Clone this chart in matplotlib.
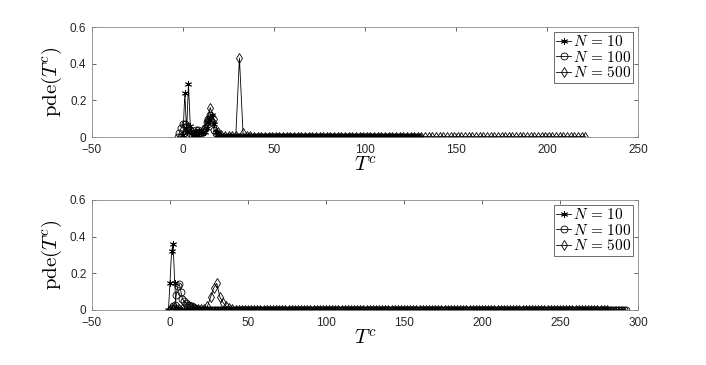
import numpy as np
import matplotlib
matplotlib.use("Agg")
import matplotlib.pyplot as plt
from matplotlib.ticker import FormatStrFormatter

plt.rcParams['font.family'] = ['Liberation Sans', 'DejaVu Sans']
plt.rcParams['mathtext.fontset'] = 'cm'

# ---- top panel data ----
t10_top = np.arange(0, 131)
pde10_top = [0.01, 0.24, 0.03, 0.29, 0.06, 0.02, 0.01, 0.02, 0.01, 0.02,
             0.02, 0.03, 0.03, 0.05, 0.08, 0.11, 0.12, 0.07, 0.03, 0.01,
             0.005] + [0.002] * 110

t100_top = np.arange(-3, 131)
pde100_top = [0.0, 0.02, 0.05, 0.07, 0.07, 0.06, 0.04, 0.02, 0.01, 0.02,
              0.04, 0.04, 0.03, 0.02, 0.03, 0.05, 0.08, 0.10, 0.12, 0.08,
              0.04, 0.02, 0.01, 0.005] + [0.002] * 110

t500_top = np.arange(-1, 222, 2)
pde500_top = [0.0, 0.03, 0.05, 0.03, 0.02, 0.02, 0.04, 0.09, 0.16, 0.10,
              0.03, 0.01, 0.005, 0.003, 0.003, 0.005, 0.43, 0.02, 0.005,
              0.003] + [0.002] * 92

# ---- bottom panel data ----
t10_bot = np.arange(-1, 86)
pde10_bot = [0.0, 0.15, 0.32, 0.36, 0.15, 0.01, 0.005] + [0.002] * 80

t100_bot = np.arange(0, 293)
pde100_bot = [0.0, 0.01, 0.02, 0.03, 0.08, 0.13, 0.14, 0.10, 0.06, 0.05,
              0.04, 0.03, 0.03, 0.02, 0.02, 0.015, 0.01, 0.005] + [0.002] * 275

t500_bot = np.arange(0, 281, 2)
pde500_bot = [0.0, 0.005, 0.005, 0.005, 0.005, 0.005, 0.005, 0.005, 0.005,
              0.005, 0.005, 0.005, 0.02, 0.07, 0.12, 0.145, 0.07, 0.04,
              0.02, 0.01, 0.005] + [0.002] * 120

labels = [r'$N\,=\,10$', r'$N\,=\,100$', r'$N\,=\,500$']
markers = [(6, 2, 0), 'o', 'd']   # asterisk, circle, diamond

fig = plt.figure(figsize=(7.06, 3.65), dpi=100)
W, H = 706, 365
ax_top = fig.add_axes([92 / W, (H - 137) / H, 546 / W, 110 / H])
ax_bot = fig.add_axes([92 / W, (H - 310) / H, 546 / W, 110 / H])

panels = [
    (ax_top, [(t10_top, pde10_top), (t100_top, pde100_top), (t500_top, pde500_top)],
     (-50, 250), np.arange(-50, 251, 50)),
    (ax_bot, [(t10_bot, pde10_bot), (t100_bot, pde100_bot), (t500_bot, pde500_bot)],
     (-50, 300), np.arange(-50, 301, 50)),
]

for ax, series, xlim, xticks in panels:
    for (t, p), m, lab in zip(series, markers, labels):
        ax.plot(t, p, color='black', lw=0.6, marker=m, markersize=5,
                markerfacecolor='none', markeredgewidth=0.6, label=lab)
    ax.set_xlim(*xlim)
    ax.set_ylim(0, 0.6)
    ax.set_xticks(xticks)
    ax.set_yticks([0, 0.2, 0.4, 0.6])
    ax.yaxis.set_major_formatter(FormatStrFormatter('%g'))
    ax.tick_params(direction='in', length=3, width=0.5, labelsize=8.5,
                   top=True, right=True, colors='#262626')
    ax.tick_params(axis='x', pad=5)
    ax.tick_params(axis='y', pad=4)
    for sp in ax.spines.values():
        sp.set_color('#8a8a8a')
        sp.set_linewidth(0.6)
    ax.set_xlabel(r'$T^c$', fontsize=15, labelpad=0)
    ax.set_ylabel(r'$\mathrm{pde}(T^c)$', fontsize=15, labelpad=4)
    leg = ax.legend(loc='upper right', fontsize=11, handlelength=1.0,
                    handletextpad=0.1, borderpad=0.15, labelspacing=0.05,
                    borderaxespad=0.3, fancybox=False, framealpha=1)
    leg.get_frame().set_edgecolor('#555555')
    leg.get_frame().set_linewidth(0.6)

fig.savefig('out.png', dpi=100)
